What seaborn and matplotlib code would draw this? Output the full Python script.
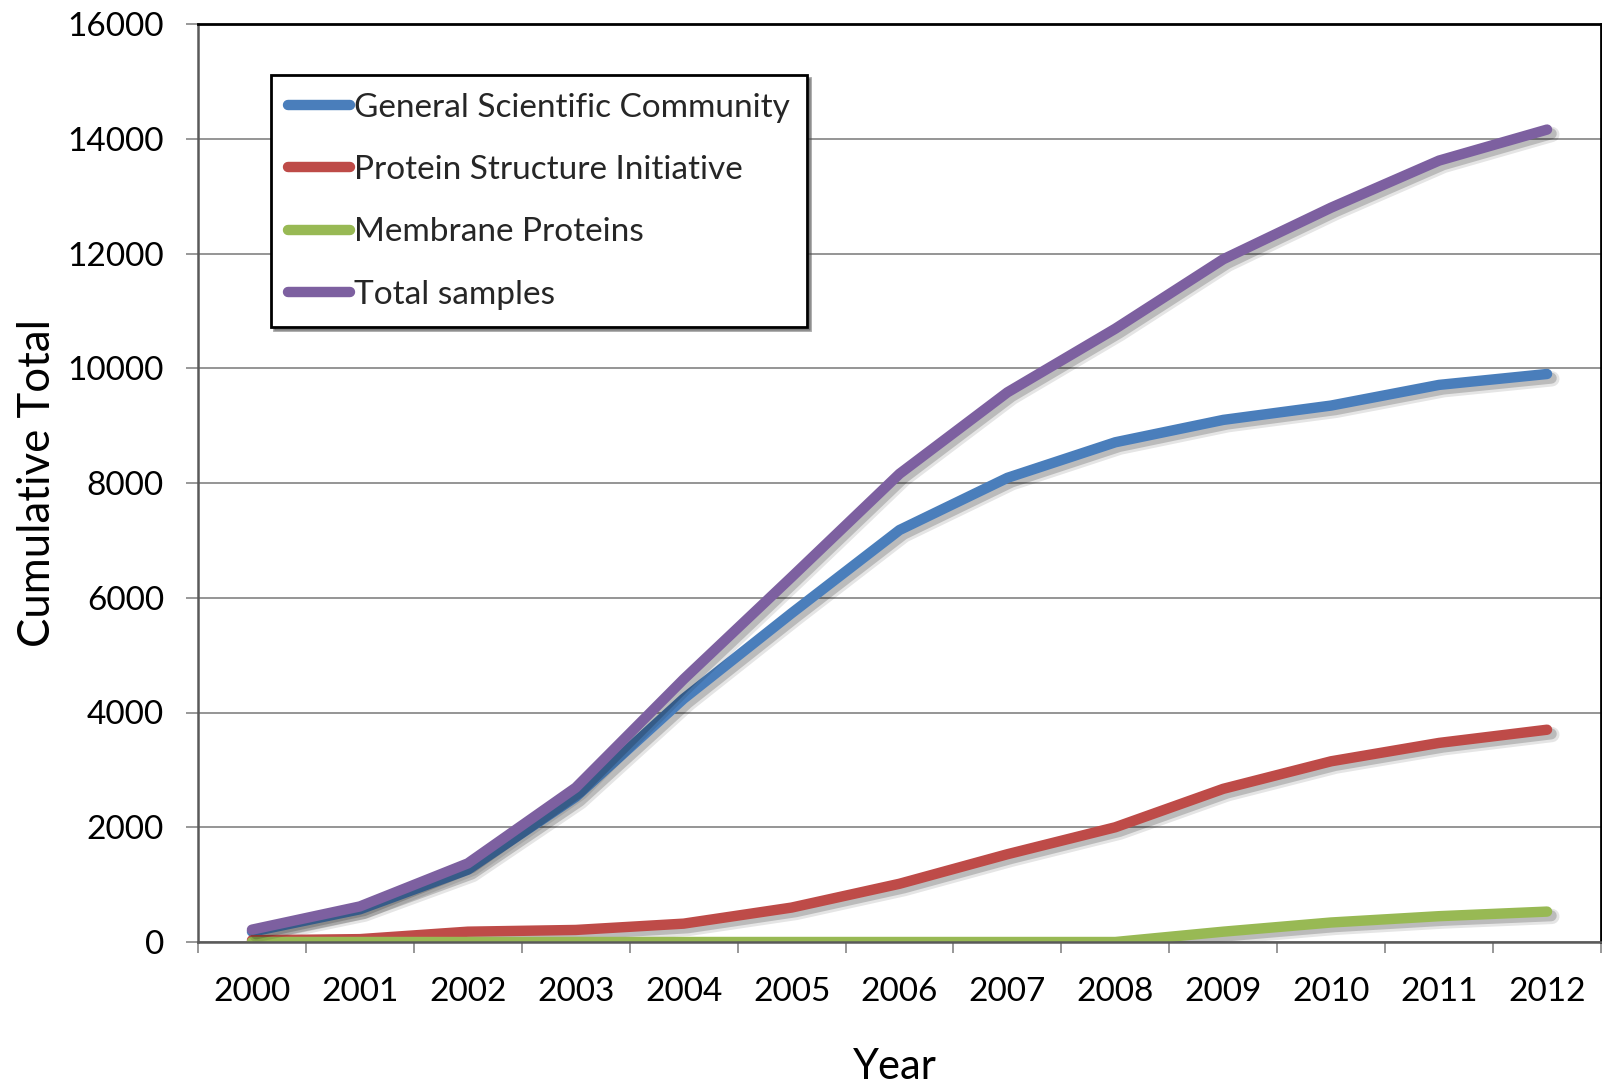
import matplotlib
matplotlib.use("Agg")
import matplotlib.pyplot as plt
import matplotlib.patheffects as pe
import numpy as np
import pandas as pd
import seaborn as sns

years = ["2000", "2001", "2002", "2003", "2004", "2005", "2006",
         "2007", "2008", "2009", "2010", "2011", "2012"]
general_community = [180, 570, 1260, 2530, 4240, 5730, 7180, 8090, 8710, 9100, 9350, 9710, 9900]
structure_initiative = [30, 50, 180, 210, 320, 600, 1015, 1530, 2000, 2670, 3150, 3470, 3700]
membrane_proteins = [0, 0, 0, 0, 0, 0, 0, 0, 0, 180, 340, 450, 530]
total_samples = [215, 620, 1370, 2690, 4580, 6360, 8160, 9580, 10690, 11900, 12800, 13620, 14160]

series_names = ["General Scientific Community", "Protein Structure Initiative",
                "Membrane Proteins", "Total samples"]
series_values = [general_community, structure_initiative, membrane_proteins, total_samples]
series_colors = ["#4A7EBB", "#BE4B48", "#98B954", "#7D60A0"]

rows = []
for name, vals in zip(series_names, series_values):
    for i, v in enumerate(vals):
        rows.append({"idx": i, "value": v, "series": name})
df = pd.DataFrame(rows)

sns.set_theme(style="white")
plt.rcParams["font.family"] = ["Lato", "DejaVu Sans"]

fig = plt.figure(figsize=(16.02, 10.91), dpi=100)
ax = fig.add_axes([198 / 1602, 1 - 942 / 1091, 1403 / 1602, 918 / 1091])

sns.lineplot(data=df, x="idx", y="value", hue="series", hue_order=series_names,
             palette=series_colors, linewidth=7.5, ax=ax, legend=False,
             sort=False)

# soft drop shadow under each line
shadow = [pe.SimpleLineShadow(offset=(3.5, -3.5), shadow_color="#000000", alpha=0.10,
                              linewidth=11),
          pe.SimpleLineShadow(offset=(3, -3), shadow_color="#000000", alpha=0.18,
                              linewidth=8),
          pe.Normal()]
for line in ax.get_lines():
    line.set_solid_capstyle("round")
    line.set_solid_joinstyle("round")
    line.set_path_effects(shadow)

ax.set_xlim(-0.5, len(years) - 0.5)
ax.set_ylim(0, 16000)
ax.set_yticks(np.arange(0, 16001, 2000))
ax.set_yticklabels([str(v) for v in range(0, 16001, 2000)])
ax.grid(axis="y", color="#8C8C8C", linewidth=1.3)
ax.set_axisbelow(True)

ax.set_xticks(np.arange(len(years)))
ax.set_xticklabels(years)
ax.set_xticks(np.arange(len(years) + 1) - 0.5, minor=True)
ax.tick_params(axis="x", which="major", length=0, pad=25, labelsize=24, colors="black")
ax.tick_params(axis="x", which="minor", length=8, width=1.2, color="#868686", direction="out",
               bottom=True)
ax.tick_params(axis="y", which="major", length=8.5, width=1.2, color="#868686", direction="out",
               pad=16, labelsize=24, left=True, labelcolor="black")

for side in ["left", "bottom"]:
    ax.spines[side].set_color("#5A5A5A")
    ax.spines[side].set_linewidth(1.8)
for side in ["top", "right"]:
    ax.spines[side].set_color("black")
    ax.spines[side].set_linewidth(2.0)

ax.set_ylabel("Cumulative Total", fontsize=31.5, color="black")
ax.yaxis.set_label_coords(-0.100, 0.5)
ax.set_xlabel("Year", fontsize=30, color="black")
ax.xaxis.set_label_coords(0.497, -0.115)

handles = [plt.Line2D([0], [0], color=c, linewidth=7.5, solid_capstyle="round")
           for c in series_colors]
leg = ax.legend(handles, series_names, loc="upper left", bbox_to_anchor=(0.052, 0.944),
                borderaxespad=0, fontsize=24, frameon=True, fancybox=False, shadow=True,
                edgecolor="black", handlelength=1.85, handletextpad=0.12, labelspacing=0.97,
                borderpad=0.52)
leg.get_frame().set_linewidth(2.0)

fig.savefig("out.png", dpi=100, facecolor="white")
